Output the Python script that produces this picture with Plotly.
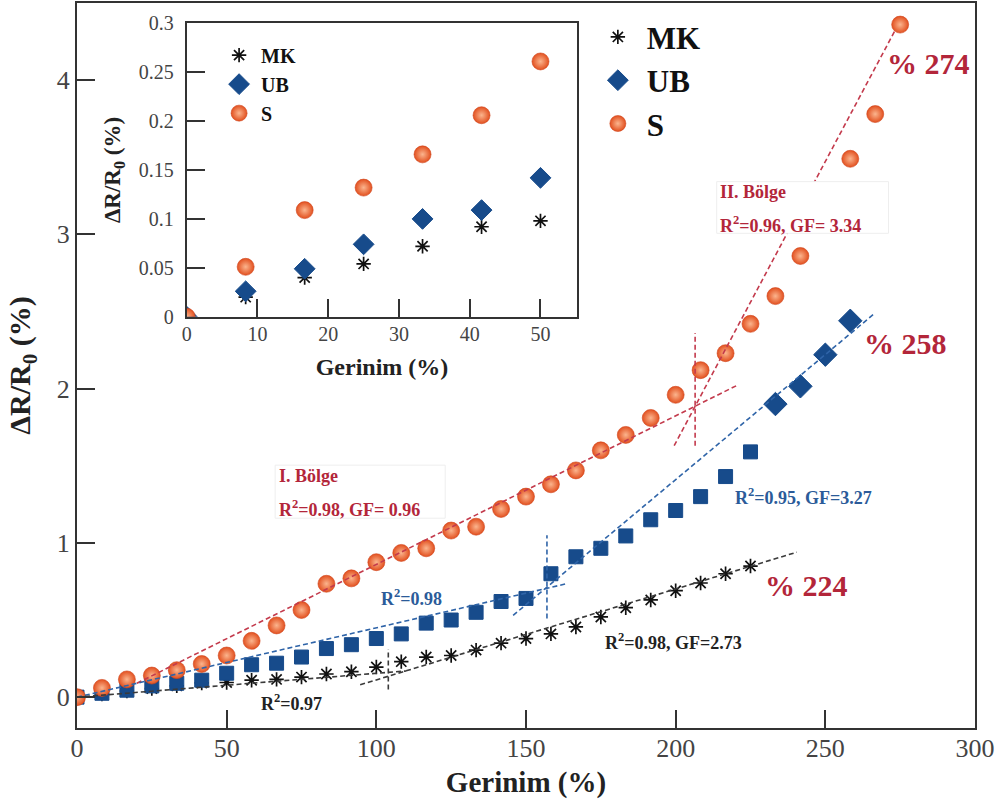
import plotly.graph_objects as go

SERIF = "Liberation Serif"

# ---------------- data ----------------
strain = [0, 8.33, 16.67, 25, 33.33, 41.67, 50, 58.33, 66.67, 75, 83.33, 91.67,
          100, 108.33, 116.67, 125, 133.33, 141.67, 150, 158.33, 166.67, 175,
          183.33, 191.67, 200, 208.33, 216.67, 225, 233.33, 241.67, 250, 258.33,
          266.67, 275]
mk = [0, 0.02, 0.04, 0.055, 0.073, 0.092, 0.095, 0.11, 0.115, 0.13, 0.15, 0.165,
      0.195, 0.23, 0.26, 0.27, 0.305, 0.35, 0.38, 0.41, 0.455, 0.52, 0.58, 0.63,
      0.69, 0.74, 0.80, 0.85]
ub = [0, 0.025, 0.045, 0.073, 0.09, 0.11, 0.155, 0.21, 0.22, 0.26, 0.315, 0.34,
      0.38, 0.41, 0.48, 0.50, 0.55, 0.62, 0.64, 0.80, 0.91, 0.965, 1.045, 1.15,
      1.21, 1.30, 1.43, 1.59, 1.90, 2.015, 2.22, 2.44]
ub_square_count = 28          # first points drawn as squares, the rest as diamonds
s = [0, 0.06, 0.115, 0.14, 0.175, 0.215, 0.27, 0.365, 0.465, 0.565, 0.735, 0.77,
     0.875, 0.935, 0.965, 1.08, 1.105, 1.22, 1.30, 1.38, 1.47, 1.60, 1.70, 1.81,
     1.96, 2.12, 2.23, 2.42, 2.60, 2.86, None, 3.49, 3.78, 4.36]

inset_strain = [0, 8.33, 16.67, 25, 33.33, 41.67, 50]
inset_mk = [0, 0.020, 0.040, 0.054, 0.072, 0.092, 0.098]
inset_ub = [0, 0.026, 0.049, 0.074, 0.100, 0.109, 0.142]
inset_s = [0, 0.051, 0.109, 0.132, 0.166, 0.206, 0.261]

# fitted region lines (end points) and region dividers
s_fit1_x, s_fit1_y = [20, 220.4], [0.09, 2.02]
s_fit2_x, s_fit2_y = [199.5, 273.5], [1.63, 4.33]
s_div_x, s_div_y = [206.5, 206.5], [1.63, 2.36]
ub_fit1_x, ub_fit1_y = [0, 163.5], [0, 0.735]
ub_fit2_x, ub_fit2_y = [145.7, 266.6], [0.53, 2.49]
ub_div_x, ub_div_y = [157, 157], [0.51, 1.05]
mk_fit1_x, mk_fit1_y = [0, 110], [0, 0.17]
mk_fit2_x, mk_fit2_y = [94.6, 240.5], [0.08, 0.94]
mk_div_x, mk_div_y = [104, 104], [0.05, 0.31]

x_ticks_main = [0, 50, 100, 150, 200, 250, 300]
y_ticks_main = [0, 1, 2, 3, 4]

# ---------------- styles ----------------
RED_FIT = "#c33a4c"
BLUE_FIT = "#2f64a8"
BLACK_FIT = "#3a3a3a"
NAVY = "#174b8b"
TXT_RED = "#b3263a"
TXT_BLUE = "#2b5b99"

# radial gradient: gradient.color is the centre colour, marker.color the rim
circle = dict(symbol="circle", size=17, color="#e2501f",
              gradient=dict(type="radial", color="#fbb58e"),
              line=dict(color="#d0451c", width=0.6))
star = dict(symbol="asterisk-open", size=12, color="#111111",
            line=dict(color="#111111", width=1.7))

fig = go.Figure()

# ---- main traces ----
fig.add_trace(go.Scatter(x=strain[:len(mk)], y=mk, mode="markers", name="MK",
                         marker=star, legend="legend"))
fig.add_trace(go.Scatter(x=strain[:ub_square_count], y=ub[:ub_square_count],
                         mode="markers", name="UB", showlegend=False,
                         marker=dict(symbol="square", size=14, color=NAVY,
                                     line=dict(color=NAVY, width=1))))
fig.add_trace(go.Scatter(x=strain[ub_square_count:len(ub)], y=ub[ub_square_count:],
                         mode="markers", name="UB", legend="legend",
                         marker=dict(symbol="diamond", size=18, color=NAVY,
                                     line=dict(color=NAVY, width=1))))
fig.add_trace(go.Scatter(x=strain, y=s, mode="markers", name="S",
                         marker=circle, legend="legend"))

dash = "5px,3px"
for xs, ys, col in [(s_fit1_x, s_fit1_y, RED_FIT), (s_fit2_x, s_fit2_y, RED_FIT),
                    (s_div_x, s_div_y, RED_FIT),
                    (ub_fit1_x, ub_fit1_y, BLUE_FIT), (ub_fit2_x, ub_fit2_y, BLUE_FIT),
                    (ub_div_x, ub_div_y, BLUE_FIT),
                    (mk_fit1_x, mk_fit1_y, BLACK_FIT), (mk_fit2_x, mk_fit2_y, BLACK_FIT),
                    (mk_div_x, mk_div_y, BLACK_FIT)]:
    fig.add_trace(go.Scatter(x=xs, y=ys, mode="lines", showlegend=False,
                             hoverinfo="skip",
                             line=dict(color=col, width=1.6, dash=dash)))

# ---- inset traces ----
fig.add_trace(go.Scatter(x=inset_strain, y=inset_mk, mode="markers", name="MK",
                         marker=star, xaxis="x2", yaxis="y2", legend="legend2"))
fig.add_trace(go.Scatter(x=inset_strain, y=inset_ub, mode="markers", name="UB",
                         marker=dict(symbol="diamond", size=16, color=NAVY,
                                     line=dict(color=NAVY, width=1)),
                         xaxis="x2", yaxis="y2", legend="legend2"))
fig.add_trace(go.Scatter(x=inset_strain, y=inset_s, mode="markers", name="S",
                         marker=circle, xaxis="x2", yaxis="y2", legend="legend2"))

axis_common = dict(showline=True, linecolor="#333333", linewidth=2, mirror=True,
                   ticks="inside", tickcolor="#333333", tickwidth=2,
                   showgrid=False, zeroline=False, automargin=False)

fig.update_layout(
    width=1000, height=807,
    margin=dict(l=77, r=25, t=3, b=79, autoexpand=False),
    paper_bgcolor="white", plot_bgcolor="white",
    font=dict(family=SERIF, color="#222222"),
    xaxis=dict(axis_common, range=[0, 300], tickvals=x_ticks_main, ticklen=18,
               tickfont=dict(size=26, color="#444444"), ticklabelstandoff=-4,
               title=dict(text="Gerinim (%)", standoff=9,
                          font=dict(size=29, family=SERIF, color="#222222", weight="bold"))),
    yaxis=dict(axis_common, range=[-0.2, 4.5], tickvals=y_ticks_main, ticklen=18,
               tickfont=dict(size=26, color="#444444"), ticklabelstandoff=0,
               title=dict(text="ΔR/R<sub>0</sub> (%)", standoff=17,
                          font=dict(size=30, family=SERIF, color="#222222", weight="bold"))),
    xaxis2=dict(axis_common, domain=[0.1222, 0.5571], anchor="y2", range=[0, 55.2],
                dtick=10, ticklen=18, tickfont=dict(size=20, color="#444444"),
                ticklabelstandoff=-2,
                title=dict(text="Gerinim (%)", standoff=14,
                           font=dict(size=24, family=SERIF, color="#222222", weight="bold"))),
    yaxis2=dict(axis_common, domain=[0.5673, 0.972], anchor="x2", range=[0, 0.3],
                dtick=0.05, ticklen=18, tickfont=dict(size=20, color="#444444"),
                ticklabelstandoff=7,
                title=dict(text="ΔR/R<sub>0</sub> (%)", standoff=12,
                           font=dict(size=23, family=SERIF, color="#222222", weight="bold"))),
    legend=dict(x=0.57, y=0.99, xanchor="left", yanchor="top", bgcolor="rgba(0,0,0,0)",
                itemwidth=48,
                font=dict(size=31, family=SERIF, color="#111111", weight="bold")),
    legend2=dict(x=0.156, y=0.955, xanchor="left", yanchor="top", bgcolor="rgba(0,0,0,0)",
                 itemwidth=34,
                 font=dict(size=20, family=SERIF, color="#111111", weight="bold")),
    showlegend=True,
)

# white boxes behind the region labels
fig.add_shape(type="rect", xref="x", yref="y", x0=66.2, x1=123, y0=1.16, y1=1.504,
              fillcolor="white", line=dict(color="#eeeeee", width=1), layer="above")
fig.add_shape(type="rect", xref="x", yref="y", x0=213.7, x1=271.1, y0=3.007, y1=3.342,
              fillcolor="white", line=dict(color="#eeeeee", width=1), layer="above")


def note(x, y, text, color, size):
    fig.add_annotation(x=x, y=y, xref="x", yref="y", text=text, showarrow=False,
                       xanchor="left", yanchor="middle",
                       font=dict(family=SERIF, size=size, color=color, weight="bold"))


note(66.8, 1.435, "I. Bölge", TXT_RED, 18)
note(66.8, 1.222, "R<sup>2</sup>=0.98, GF= 0.96", TXT_RED, 18)
note(214.3, 3.277, "II. Bölge", TXT_RED, 18)
note(214.3, 3.067, "R<sup>2</sup>=0.96, GF= 3.34", TXT_RED, 18)
note(101, 0.647, "R<sup>2</sup>=0.98", TXT_BLUE, 18)
note(219.3, 1.298, "R<sup>2</sup>=0.95, GF=3.27", TXT_BLUE, 18)
note(175.8, 0.363, "R<sup>2</sup>=0.98, GF=2.73", "#222222", 18)
note(60.9, -0.032, "R<sup>2</sup>=0.97", "#222222", 18)
note(229.3, 0.725, "% 224", TXT_RED, 30)
note(262.2, 2.293, "% 258", TXT_RED, 30)
note(269.9, 4.11, "% 274", TXT_RED, 30)

fig.write_html("out.html", config={"displayModeBar": False},
               post_script="document.body.style.margin='0';")
